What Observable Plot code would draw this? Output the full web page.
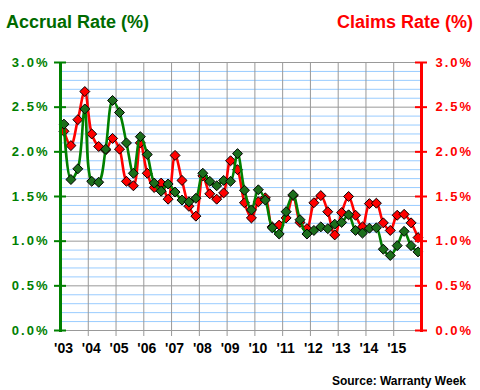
<!DOCTYPE html>
<html>
<head>
<meta charset="utf-8">
<script src="https://cdn.jsdelivr.net/npm/d3@7"></script>
<script src="https://cdn.jsdelivr.net/npm/@observablehq/plot@0.6"></script>
<style>
  body { margin: 0; background: #fff; }
  #wrap { position: relative; width: 480px; height: 390px; font-family: "Liberation Sans", Arial, sans-serif; }
  .ttl { position: absolute; font-weight: bold; font-size: 18px; white-space: nowrap; }
  #src { position: absolute; font-weight: bold; font-size: 12px; right: 14px; top: 374px; color: #000; }
  g[aria-label="y-axis tick label"] text { letter-spacing: 2px; }
</style>
</head>
<body>
<div id="wrap">
  <div class="ttl" style="left:6px; top:12px; color:#006a00;">Accrual Rate (%)</div>
  <div class="ttl" style="right:7px; top:12px; color:#ff0000;">Claims Rate (%)</div>
  <div id="src">Source: Warranty Week</div>
</div>
<script>
const years = [2003, 2004, 2005, 2006, 2007, 2008, 2009, 2010, 2011, 2012, 2013, 2014, 2015];
const yearLabels = ["'03", "'04", "'05", "'06", "'07", "'08", "'09", "'10", "'11", "'12", "'13", "'14", "'15"];
const quarters = [1, 2, 3, 4];
// Accrual rate (%), quarterly 2003 Q1 .. 2015 Q4
const accrual = [
  2.31, 1.69, 1.81, 2.48,
  1.67, 1.66, 2.03, 2.575,
  2.44, 2.10, 1.76, 2.17,
  1.97, 1.65, 1.56, 1.64,
  1.55, 1.46, 1.44, 1.48,
  1.76, 1.67, 1.62, 1.68,
  1.67, 1.98, 1.57, 1.35,
  1.575, 1.46, 1.15, 1.08,
  1.33, 1.52, 1.24, 1.08,
  1.12, 1.16, 1.14, 1.19,
  1.21, 1.295, 1.12, 1.09,
  1.145, 1.15, 0.91, 0.84,
  0.95, 1.11, 0.95, 0.88
];
// Claims rate (%), quarterly 2003 Q1 .. 2015 Q4
const claims = [
  2.23, 2.07, 2.36, 2.675,
  2.20, 2.06, 2.02, 2.15,
  2.03, 1.67, 1.62, 2.10,
  1.76, 1.60, 1.65, 1.47,
  1.96, 1.68, 1.39, 1.28,
  1.73, 1.53, 1.47, 1.54,
  1.90, 1.80, 1.43, 1.26,
  1.44, 1.485, 1.16, 1.18,
  1.26, 1.51, 1.21, 1.14,
  1.43, 1.51, 1.33, 1.07,
  1.32, 1.50, 1.29, 1.16,
  1.42, 1.425, 1.205, 1.12,
  1.29, 1.30, 1.205, 1.04
];
const yTicks = [0, 0.5, 1.0, 1.5, 2.0, 2.5, 3.0];

const rows = [];
years.forEach((yr, yi) => quarters.forEach((q, qi) => {
  const i = yi * 4 + qi;
  rows.push({t: yr + (q - 0.5) / 4, accrual: accrual[i], claims: claims[i]});
}));

const minor = d3.range(1, 30).filter(i => i % 5 !== 0).map(i => i / 10);
const green = "#008000", red = "#ff0000";
const endYear = years[years.length - 1] + 1;

const chart = Plot.plot({
  width: 480,
  height: 390,
  marginTop: 62,
  marginBottom: 60,
  marginLeft: 60,
  marginRight: 59,
  style: {fontFamily: "'Liberation Sans', Arial, sans-serif", background: "transparent"},
  x: {domain: [years[0], endYear]},
  y: {domain: [0, 3]},
  marks: [
    Plot.ruleY(minor, {stroke: "#99ccff", strokeWidth: 1}),
    Plot.ruleY(yTicks, {stroke: "#999999", strokeWidth: 1}),
    Plot.ruleX(years.slice(1), {stroke: "#999999", strokeWidth: 1, insetBottom: -6}),
    Plot.line(rows, {x: "t", y: "claims", stroke: red, strokeWidth: 2.6, curve: "catmull-rom"}),
    Plot.dot(rows, {x: "t", y: "claims", symbol: "diamond2", r: 4.5, fill: red, stroke: "#000", strokeWidth: 1}),
    Plot.line(rows, {x: "t", y: "accrual", stroke: green, strokeWidth: 2.6, curve: "catmull-rom"}),
    Plot.dot(rows, {x: "t", y: "accrual", symbol: "diamond2", r: 4.5, fill: "#1c6e1c", stroke: "#000", strokeWidth: 1}),
    Plot.ruleX([years[0]], {stroke: green, strokeWidth: 3, insetBottom: -2}),
    Plot.ruleX([endYear], {stroke: red, strokeWidth: 3, insetBottom: -2}),
    Plot.ruleY(yTicks, {x1: years[0], x2: years[0], insetLeft: -6, insetRight: -6, stroke: green, strokeWidth: 2}),
    Plot.ruleY(yTicks, {x1: endYear, x2: endYear, insetLeft: -6, insetRight: -6, stroke: red, strokeWidth: 2}),
    Plot.axisY(yTicks, {anchor: "left", tickSize: 0, tickPadding: 11, label: null, tickFormat: d => d.toFixed(1) + "%", fill: green, fontSize: 13, fontWeight: "bold"}),
    Plot.axisY(yTicks, {anchor: "right", tickSize: 0, tickPadding: 14, label: null, tickFormat: d => d.toFixed(1) + "%", fill: red, fontSize: 13, fontWeight: "bold"}),
    Plot.axisX(years, {anchor: "bottom", tickSize: 0, tickPadding: 13, label: null, tickFormat: (d) => yearLabels[years.indexOf(d)], fill: "#000", fontSize: 14, fontWeight: "bold", dx: 3})
  ]
});
document.getElementById("wrap").prepend(chart);
chart.style.position = "absolute";
chart.style.left = "0px";
chart.style.top = "0px";
</script>
</body>
</html>
